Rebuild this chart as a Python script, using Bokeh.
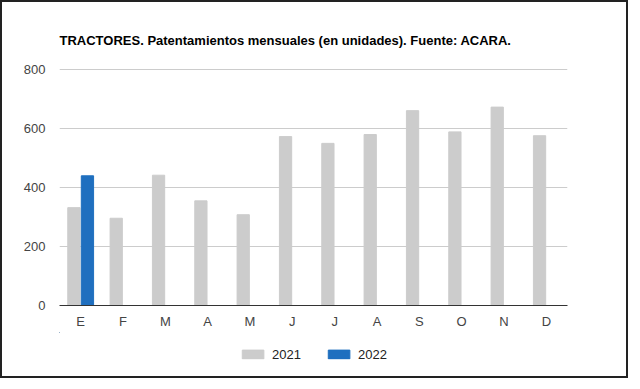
import numpy as np
from bokeh.plotting import figure
from bokeh.layouts import column
from bokeh.models import (ColumnDataSource, Range1d, FixedTicker, Legend, LegendItem, Title)
from bokeh.embed import file_html
from bokeh.resources import INLINE

months = ["E", "F", "M", "A", "M", "J", "J", "A", "S", "O", "N", "D"]
values_2021 = [332, 296, 442, 355, 308, 573, 550, 580, 661, 589, 673, 576]
values_2022 = [440, None, None, None, None, None, None, None, None, None, None, None]
series_names = ["2021", "2022"]
colors = ["#cccccc", "#1f6fbf"]
y_ticks = [0, 200, 400, 600, 800]
title_text = "TRACTORES. Patentamientos mensuales (en unidades). Fuente: ACARA."

FONT = "Liberation Sans"

idx = np.arange(len(months)) + 0.5
src = ColumnDataSource(dict(
    x1=idx - 0.16,
    x2=idx + 0.16,
    v1=np.array(values_2021, dtype=float),
    v2=np.array([np.nan if v is None else v for v in values_2022], dtype=float),
))

p = figure(width=624, height=330, output_backend="svg", toolbar_location=None,
           x_range=Range1d(0, len(months)), y_range=Range1d(0, 804),
           min_border_left=57, min_border_right=59, min_border_top=66, min_border_bottom=27)
p.outline_line_color = None

p.vbar(x="x1", top="v1", width=0.29, bottom=0, source=src, color=colors[0])
p.vbar(x="x2", top="v2", width=0.29, bottom=0, source=src, color=colors[1])

p.title = Title(text=title_text, text_font=FONT, text_font_size="13px", text_font_style="bold",
                text_color="#000000", align="left", standoff=41)

# axes
p.xaxis.ticker = FixedTicker(ticks=list(idx))
p.xaxis.major_label_overrides = {float(v): m for v, m in zip(idx, months)}
p.xaxis.major_tick_line_color = None
p.xaxis.major_tick_out = 0
p.xaxis.major_tick_in = 0
p.xaxis.minor_tick_line_color = None
p.xaxis.axis_line_color = "#333333"
p.xaxis.axis_line_width = 1
p.xaxis.major_label_text_font = FONT
p.xaxis.major_label_text_font_size = "13px"
p.xaxis.major_label_text_color = "#444444"
p.xaxis.major_label_standoff = 8

p.yaxis.ticker = FixedTicker(ticks=y_ticks)
p.yaxis.major_tick_line_color = None
p.yaxis.major_tick_out = 0
p.yaxis.major_tick_in = 0
p.yaxis.minor_tick_line_color = None
p.yaxis.axis_line_color = None
p.yaxis.major_label_text_font = FONT
p.yaxis.major_label_text_font_size = "13px"
p.yaxis.major_label_text_color = "#444444"
p.yaxis.major_label_standoff = 14

p.xgrid.grid_line_color = None
p.ygrid.grid_line_color = "#cccccc"
p.ygrid.ticker = FixedTicker(ticks=y_ticks)

# legend strip below the chart (its bars lie far outside its visible ranges; only the legend shows)
lp = figure(width=624, height=44, output_backend="svg", toolbar_location=None,
            x_axis_type=None, y_axis_type=None,
            x_range=Range1d(1000, 1001), y_range=Range1d(-1000, -999),
            min_border_left=0, min_border_right=0, min_border_top=0, min_border_bottom=0)
lp.outline_line_color = None
lp.xgrid.grid_line_color = None
lp.ygrid.grid_line_color = None
lr1 = lp.vbar(x="x1", top="v1", bottom=0, width=0.29, source=src, color=colors[0])
lr2 = lp.vbar(x="x2", top="v2", bottom=0, width=0.29, source=src, color=colors[1])

legend = Legend(items=[LegendItem(label=series_names[0], renderers=[lr1], index=0),
                       LegendItem(label=series_names[1], renderers=[lr2], index=0)],
                orientation="horizontal", location="center",
                glyph_width=27, glyph_height=11, label_text_font=FONT,
                label_text_font_size="13px", label_text_color="#222222",
                spacing=24, label_standoff=6, border_line_color=None,
                background_fill_alpha=0, margin=0, padding=0)
lp.add_layout(legend, "center")

layout = column(p, lp, spacing=0, styles={"border": "2px solid #222222"})

open("out.html", "w").write(file_html(layout, INLINE))
